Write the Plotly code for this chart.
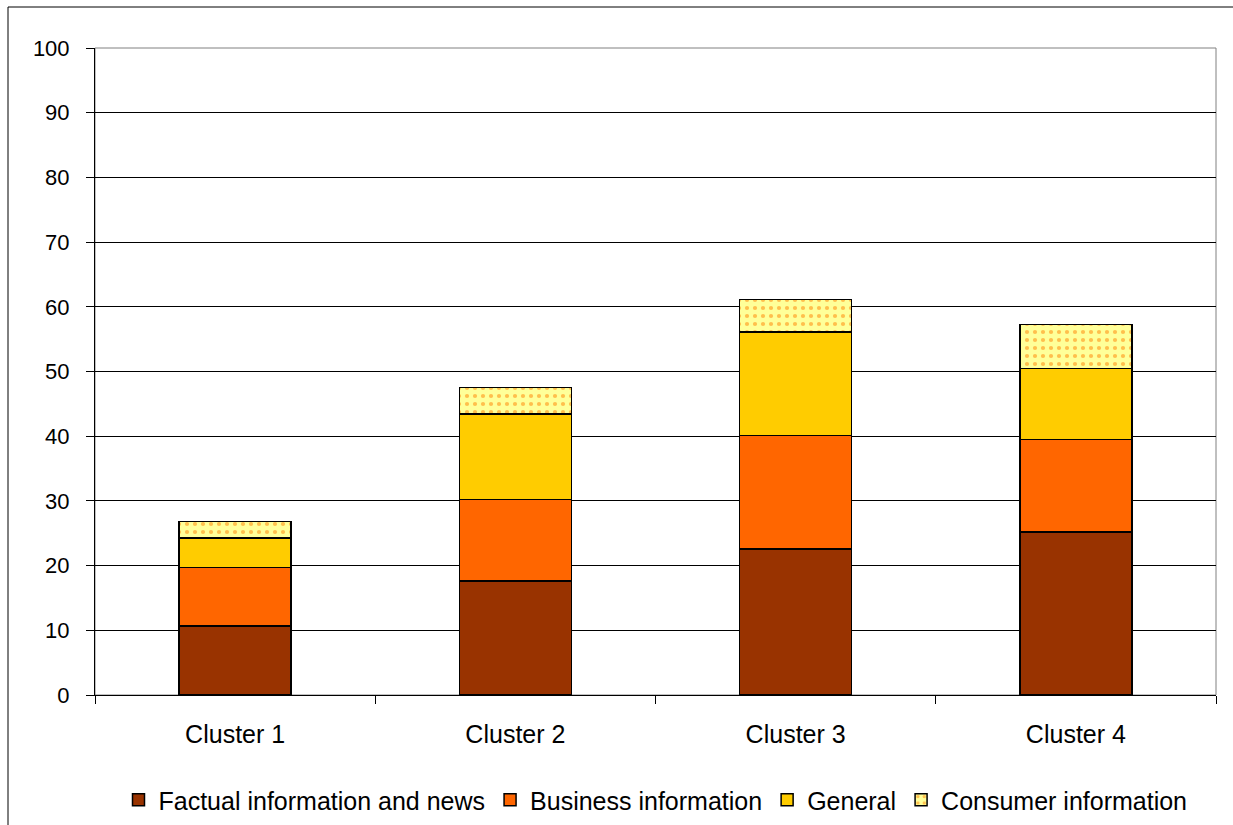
import plotly.graph_objects as go

clusters = ["Cluster 1", "Cluster 2", "Cluster 3", "Cluster 4"]
factual = [10.7, 17.6, 22.6, 25.2]
business = [9.0, 12.6, 17.5, 14.3]
general = [4.6, 13.2, 16.0, 11.0]
consumer = [2.5, 4.1, 5.0, 6.8]
y_ticks = [0, 10, 20, 30, 40, 50, 60, 70, 80, 90, 100]

FONT = "Liberation Sans, Arial, sans-serif"
outline = dict(color="black", width=1.5)

fig = go.Figure()
fig.add_trace(go.Bar(x=clusters, y=factual, name="Factual information and news",
                     marker=dict(color="#993300", line=outline)))
fig.add_trace(go.Bar(x=clusters, y=business, name="Business information",
                     marker=dict(color="#FF6600", line=outline)))
fig.add_trace(go.Bar(x=clusters, y=general, name="General",
                     marker=dict(color="#FFCC00", line=outline)))
fig.add_trace(go.Bar(x=clusters, y=consumer, name="Consumer information",
                     marker=dict(color="#FFFF99", line=outline,
                                 pattern=dict(shape=".", fgcolor="#FF8000",
                                              bgcolor="#FFFF99", size=8,
                                              solidity=0.22))))

fig.update_layout(
    barmode="stack",
    bargap=0.6,
    width=1233, height=825,
    margin=dict(l=95, r=17, t=48, b=130, autoexpand=False),
    paper_bgcolor="white", plot_bgcolor="white",
    font=dict(family=FONT, size=24, color="black"),
    legend=dict(orientation="h", x=0.5, xanchor="center",
                yref="container", y=1 - 800 / 825, yanchor="middle",
                font=dict(size=25), itemwidth=30, tracegroupgap=0,
                traceorder="normal"),
    showlegend=True,
)
fig.update_xaxes(
    showline=True, linecolor="black", linewidth=1,
    ticks="outside", tickson="boundaries", ticklen=8, tickcolor="black",
    tickfont=dict(size=25), showgrid=False, ticklabelstandoff=17,
)
fig.update_yaxes(
    range=[0, 100], tickvals=y_ticks, showline=True, linecolor="black", linewidth=1,
    ticks="outside", ticklen=8, tickcolor="black", tickfont=dict(size=22),
    showgrid=True, gridcolor="black", gridwidth=1, zeroline=False,
    ticklabelstandoff=12,
)

# plot-area border (grey) and outer chart frame
fig.add_shape(type="rect", xref="paper", yref="paper", x0=0, x1=1, y0=0, y1=1,
              line=dict(color="#808080", width=1), layer="below")
fig.add_shape(type="rect", xref="paper", yref="paper",
              x0=(8 - 95) / 1121, x1=1.05, y0=-0.3, y1=1 + (48 - 7) / 647,
              line=dict(color="black", width=1))

fig.write_html("out.html")
